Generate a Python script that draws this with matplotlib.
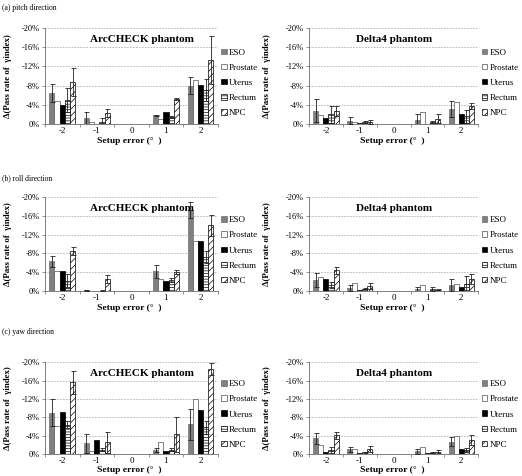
import numpy as np
import matplotlib
matplotlib.use("Agg")
import matplotlib.pyplot as plt

plt.rcParams['font.family'] = ['Liberation Serif', 'DejaVu Serif']
plt.rcParams['hatch.linewidth'] = 0.5

# categories and series
setup_errors = ['-2', '-1', '0', '1', '2']
series_names = ['ESO', 'Prostate', 'Uterus', 'Rectum', 'NPC']
y_ticks = [0, -4, -8, -12, -16, -20]
y_ticklabels = ['0%', '-4%', '-8%', '-12%', '-16%', '-20%']

# rows: ESO, Prostate, Uterus, Rectum, NPC ; columns: setup error -2..2 (%)
pitch_arc_vals = [[-6.4, -1.2, -0.05, -1.8, -8.0],
                  [-4.8, -0.4, -0.05, -1.1, -9.1],
                  [-4.0, -0.1, -0.05, -2.6, -8.2],
                  [-4.9, -0.5, -0.05, -1.4, -7.1],
                  [-8.7, -2.3, -0.05, -5.3, -13.3]]
pitch_arc_err = [[1.9, 1.4, 0, 0.15, 1.7],
                 [0, 0, 0, 0, 0],
                 [0, 0, 0, 0, 0],
                 [2.5, 0.7, 0, 0.2, 2.3],
                 [2.9, 0.8, 0, 0.2, 5.0]]

pitch_d4_vals = [[-2.8, -0.7, -0.05, -0.75, -3.1],
                 [-1.9, -0.35, -0.05, -2.5, -4.6],
                 [-1.2, -0.2, -0.05, -0.1, -2.0],
                 [-2.0, -0.5, -0.05, -0.35, -1.6],
                 [-2.7, -0.4, -0.05, -1.1, -3.8]]
pitch_d4_err = [[2.4, 0.7, 0, 1.25, 1.7],
                [0, 0, 0, 0, 0],
                [0, 0, 0, 0, 0],
                [1.7, 0.2, 0, 0.2, 1.3],
                [1.0, 0.4, 0, 0.9, 0.6]]

roll_arc_vals = [[-6.3, -0.2, -0.05, -4.2, -17.2],
                 [-4.2, -0.1, -0.05, -2.5, -10.7],
                 [-4.2, -0.1, -0.05, -2.1, -10.7],
                 [-2.1, -0.1, -0.05, -2.3, -7.2],
                 [-8.5, -2.5, -0.05, -4.1, -14.0]]
roll_arc_err = [[1.2, 0.1, 0, 1.4, 1.7],
                [0, 0, 0, 0, 0],
                [0, 0, 0, 0, 0],
                [1.5, 0.1, 0, 0.4, 1.2],
                [0.8, 0.9, 0, 0.4, 2.2]]

roll_d4_vals = [[-2.3, -0.7, -0.05, -0.35, -1.3],
                [-3.0, -1.6, -0.05, -1.35, -1.4],
                [-2.5, -0.2, -0.05, -0.1, -0.9],
                [-1.3, -0.5, -0.05, -0.4, -1.5],
                [-4.4, -1.1, -0.05, -0.25, -2.5]]
roll_d4_err = [[1.5, 0.6, 0, 0.5, 1.2],
               [0, 0, 0, 0, 0],
               [0, 0, 0, 0, 0],
               [0.7, 0.1, 0, 0.5, 1.7],
               [0.7, 0.7, 0, 0.1, 1.1]]

yaw_arc_vals = [[-9.0, -2.3, -0.05, -0.9, -6.5],
                [-6.0, -0.7, -0.05, -2.6, -12.0],
                [-9.1, -3.1, -0.05, -0.7, -9.6],
                [-6.4, -0.9, -0.05, -0.9, -5.8],
                [-15.6, -2.6, -0.05, -4.3, -18.5]]
yaw_arc_err = [[3.0, 2.1, 0, 0.5, 3.4],
               [0, 0, 0, 0, 0],
               [0, 0, 0, 0, 0],
               [0.8, 0.3, 0, 0.3, 1.4],
               [2.5, 2.3, 0, 3.8, 1.4]]

yaw_d4_vals = [[-3.4, -1.0, -0.05, -0.55, -2.7],
               [-2.0, -1.1, -0.05, -1.5, -4.0],
               [-0.4, -0.2, -0.05, -0.15, -1.0],
               [-0.9, -0.35, -0.05, -0.3, -0.8],
               [-4.1, -1.1, -0.05, -0.5, -3.0]]
yaw_d4_err = [[1.2, 0.5, 0, 0.45, 0.9],
              [0, 0, 0, 0, 0],
              [0, 0, 0, 0, 0],
              [0.6, 0.1, 0, 0.1, 0.4],
              [0.8, 0.6, 0, 0.35, 1.1]]

# bar styles per series: fill, edge, hatch
styles = [('#808080', '#6e6e6e', None),
          ('white', '#505050', None),
          ('black', 'black', None),
          ('white', 'black', '------'),
          ('white', 'black', '/////')]


def draw_panel(ax, vals, errs, title, title_x, ylab_x):
    x = np.arange(len(setup_errors))
    w = 0.15
    handles = []
    for i, name in enumerate(series_names):
        fill, edge, hatch = styles[i]
        pos = x + (i - 2) * w
        b = ax.bar(pos, vals[i], w, color=fill, edgecolor=edge, hatch=hatch,
                   linewidth=0.5, zorder=3, label=name)
        handles.append(b)
        e = np.array(errs[i])
        m = e > 0
        if m.any():
            ax.errorbar(pos[m], np.array(vals[i])[m], yerr=e[m], fmt='none',
                        ecolor='#202020', elinewidth=0.6, capsize=1.8,
                        capthick=0.6, zorder=4)

    ax.set_xlim(-0.5, 4.5)
    ax.set_ylim(0, -20)
    ax.set_yticks(y_ticks)
    ax.set_yticklabels(y_ticklabels, fontsize=6)
    ax.set_xticks(x)
    ax.set_xticklabels(setup_errors, fontsize=6.5)
    ax.set_xticks(np.arange(-0.5, 5, 1), minor=True)
    ax.tick_params(axis='x', which='major', length=0, pad=2)
    ax.tick_params(axis='x', which='minor', length=2.5, color='#808080', width=0.6)
    ax.tick_params(axis='y', length=2, color='#808080', width=0.6, pad=2)
    ax.grid(axis='y', linestyle=(0, (2, 1.5)), color='#b0b0b0', linewidth=0.6, zorder=0)
    for s in ['top', 'right']:
        ax.spines[s].set_visible(False)
    for s in ['left', 'bottom']:
        ax.spines[s].set_color('#808080')
        ax.spines[s].set_linewidth(0.7)

    ax.text(title_x, 0.875, title, transform=ax.transAxes, ha='center', va='center',
            fontsize=8, fontweight='bold')
    ax.set_ylabel('Δ(Pass rate of  γindex)', fontsize=6.3, fontweight='bold')
    ax.yaxis.set_label_coords(ylab_x, 0.5)
    ax.set_xlabel('Setup error (°  )', fontsize=6.8, fontweight='bold')
    ax.xaxis.set_label_coords(0.49, -0.135)

    ax.legend(handles=handles, loc='center left', bbox_to_anchor=(0.99, 0.43),
              frameon=False, fontsize=6.5, handlelength=0.6, handleheight=0.6,
              handletextpad=0.25, labelspacing=0.78, borderaxespad=0.2)


fig = plt.figure(figsize=(5.22, 4.76), dpi=100)

rows = [(0.7395, 0.2017), (0.3887, 0.1975), (0.0462, 0.193)]
panels = [(pitch_arc_vals, pitch_arc_err, pitch_d4_vals, pitch_d4_err),
          (roll_arc_vals, roll_arc_err, roll_d4_vals, roll_d4_err),
          (yaw_arc_vals, yaw_arc_err, yaw_d4_vals, yaw_d4_err)]
row_titles = ['(a) pitch direction', '(b) roll direction', '(c) yaw direction']
row_title_y = [1 - 8 / 476, 1 - 178 / 476, 1 - 332 / 476]

for r, (bottom, height) in enumerate(rows):
    av, ae, dv, de = panels[r]
    ax1 = fig.add_axes([0.0862, bottom, 0.331, height])
    draw_panel(ax1, av, ae, 'ArcCHECK phantom', 0.56, -0.19)
    ax2 = fig.add_axes([0.592, bottom, 0.324, height])
    draw_panel(ax2, dv, de, 'Delta4 phantom', 0.50, -0.225)
    fig.text(0.004, row_title_y[r], row_titles[r], fontsize=5.5, ha='left', va='center')

fig.savefig('out.png', dpi=100)
